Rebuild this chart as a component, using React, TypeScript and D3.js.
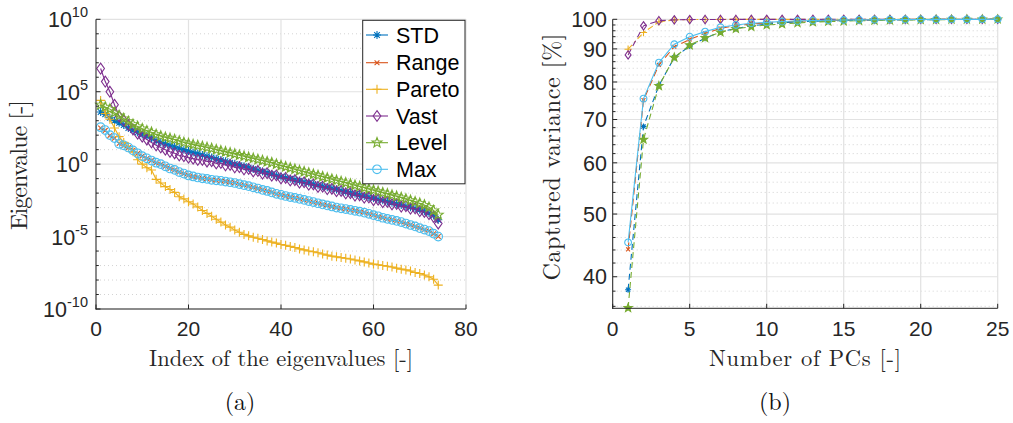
import React from 'react';
import * as d3 from 'd3';

// ---------- DATA ----------
const seriesNames = ['STD', 'Range', 'Pareto', 'Vast', 'Level', 'Max'];
const seriesColors = ['#0072BD', '#D95319', '#EDB120', '#7E2F8E', '#77AC30', '#4DBEEE'];
const markerTypes = ['asterisk', 'x', 'plus', 'diamond', 'pentagram', 'circle'];

// (a) eigenvalues, given as log10 of the eigenvalue, index 1..74
const stdExp = [3.6, 3.45, 3.2, 3.0, 2.85, 2.7, 2.5, 2.35, 2.2, 2.05,
  1.95, 1.8, 1.62, 1.5, 1.4, 1.3, 1.2, 1.1, 1.0, 0.9,
  0.8, 0.74, 0.63, 0.55, 0.46, 0.37, 0.28, 0.2, 0.1, 0.02,
  -0.07, -0.15, -0.25, -0.33, -0.42, -0.5, -0.6, -0.68, -0.78, -0.86,
  -0.93, -1.0, -1.08, -1.15, -1.23, -1.28, -1.38, -1.45, -1.53, -1.6,
  -1.67, -1.75, -1.82, -1.9, -1.97, -2.05, -2.12, -2.2, -2.27, -2.34,
  -2.42, -2.5, -2.58, -2.66, -2.74, -2.82, -2.9, -2.98, -3.06, -3.15,
  -3.25, -3.38, -3.55, -3.84];
const rangeExp = [2.5, 2.33, 1.98, 1.79, 1.42, 1.28, 1.14, 0.96, 0.74, 0.56,
  0.39, 0.26, 0.1, -0.01, -0.14, -0.29, -0.41, -0.54, -0.66, -0.77,
  -0.86, -0.91, -0.99, -1.01, -1.09, -1.11, -1.16, -1.19, -1.26, -1.29,
  -1.39, -1.44, -1.53, -1.59, -1.69, -1.77, -1.86, -1.94, -2.06, -2.11,
  -2.21, -2.26, -2.34, -2.39, -2.48, -2.54, -2.63, -2.69, -2.79, -2.84,
  -2.93, -2.99, -3.06, -3.09, -3.17, -3.21, -3.29, -3.34, -3.44, -3.51,
  -3.61, -3.69, -3.79, -3.84, -3.93, -3.99, -4.11, -4.19, -4.31, -4.41,
  -4.53, -4.61, -4.81, -5.0];
const paretoExp = [4.4, 3.5, 3.1, 2.5, 1.9, 1.5, 1.2, 0.85, 0.3, 0.0,
  -0.25, -0.4, -1.05, -1.3, -1.55, -1.75, -1.95, -2.25, -2.4, -2.6,
  -2.75, -2.95, -3.2, -3.4, -3.6, -3.8, -4.0, -4.2, -4.35, -4.55,
  -4.7, -4.85, -4.95, -5.05, -5.12, -5.2, -5.3, -5.38, -5.45, -5.55,
  -5.6, -5.68, -5.75, -5.85, -5.92, -6.0, -6.05, -6.12, -6.2, -6.28,
  -6.35, -6.4, -6.45, -6.5, -6.55, -6.62, -6.68, -6.75, -6.82, -6.9,
  -6.95, -7.0, -7.05, -7.1, -7.18, -7.25, -7.3, -7.38, -7.48, -7.55,
  -7.65, -7.78, -7.95, -8.35];
const vastExp = [6.6, 5.7, 5.0, 4.1, 3.3, 3.0, 2.7, 2.4, 2.1, 1.9,
  1.7, 1.5, 1.3, 1.15, 1.0, 0.85, 0.75, 0.6, 0.55, 0.45,
  0.38, 0.3, 0.3, 0.18, 0.2, 0.05, 0.08, -0.08, -0.05, -0.22,
  -0.2, -0.36, -0.33, -0.5, -0.47, -0.65, -0.62, -0.8, -0.78, -0.98,
  -0.95, -1.13, -1.1, -1.28, -1.25, -1.42, -1.4, -1.57, -1.55, -1.72,
  -1.7, -1.87, -1.85, -2.02, -2.0, -2.17, -2.15, -2.32, -2.3, -2.48,
  -2.45, -2.63, -2.6, -2.78, -2.75, -2.93, -2.9, -3.08, -3.05, -3.25,
  -3.3, -3.45, -3.65, -4.1];
const levelExp = [4.1, 3.95, 3.8, 3.55, 3.35, 3.15, 2.95, 2.75, 2.6, 2.45,
  2.3, 2.2, 2.05, 1.95, 1.85, 1.78, 1.7, 1.6, 1.5, 1.42,
  1.35, 1.28, 1.22, 1.15, 1.08, 1.0, 0.92, 0.85, 0.78, 0.7,
  0.62, 0.55, 0.47, 0.4, 0.32, 0.25, 0.17, 0.1, 0.0, -0.1,
  -0.18, -0.27, -0.35, -0.44, -0.52, -0.61, -0.7, -0.78, -0.87, -0.95,
  -1.04, -1.12, -1.2, -1.29, -1.37, -1.46, -1.54, -1.63, -1.71, -1.8,
  -1.88, -1.97, -2.05, -2.14, -2.22, -2.31, -2.4, -2.5, -2.6, -2.7,
  -2.82, -2.98, -3.2, -3.5];
const maxExp = [2.55, 2.35, 2.0, 1.8, 1.4, 1.3, 1.15, 0.95, 0.75, 0.55,
  0.4, 0.25, 0.1, 0.0, -0.15, -0.3, -0.4, -0.55, -0.65, -0.78,
  -0.85, -0.92, -0.98, -1.02, -1.08, -1.12, -1.15, -1.2, -1.25, -1.3,
  -1.38, -1.45, -1.52, -1.6, -1.68, -1.78, -1.85, -1.95, -2.05, -2.12,
  -2.2, -2.27, -2.33, -2.4, -2.47, -2.55, -2.62, -2.7, -2.78, -2.85,
  -2.92, -3.0, -3.05, -3.1, -3.16, -3.22, -3.28, -3.35, -3.43, -3.52,
  -3.6, -3.7, -3.78, -3.85, -3.92, -4.0, -4.1, -4.2, -4.3, -4.42,
  -4.52, -4.62, -4.8, -5.0];

// (b) captured variance [%] for 1..25 PCs
const stdCum = [38.2, 68.3, 79.0, 87.3, 90.9, 93.5, 95.6, 96.8, 97.7, 98.3, 98.8, 99.1, 99.3, 99.45, 99.55, 99.65, 99.72, 99.78, 99.83, 99.87, 99.9, 99.93, 99.95, 99.97, 100];
const rangeCum = [44.1, 75.0, 85.0, 90.7, 93.1, 95.1, 96.8, 97.8, 98.3, 98.8, 99.1, 99.3, 99.5, 99.6, 99.7, 99.78, 99.83, 99.88, 99.91, 99.94, 99.96, 99.97, 99.98, 99.99, 100];
const paretoCum = [89.9, 95.4, 99.1, 99.8, 99.9, 99.94, 99.96, 99.97, 99.98, 99.98, 99.99, 99.99, 99.99, 99.99, 100, 100, 100, 100, 100, 100, 100, 100, 100, 100, 100];
const vastCum = [88.1, 97.7, 99.5, 99.8, 99.9, 99.93, 99.95, 99.96, 99.97, 99.98, 99.98, 99.99, 99.99, 99.99, 100, 100, 100, 100, 100, 100, 100, 100, 100, 100, 100];
const levelCum = [35.8, 65.2, 78.9, 87.3, 91.2, 93.6, 95.5, 96.7, 97.4, 98.0, 98.3, 98.7, 99.0, 99.2, 99.35, 99.5, 99.6, 99.7, 99.75, 99.8, 99.85, 99.9, 99.93, 99.96, 100];
const maxCum = [45.2, 75.4, 85.7, 91.5, 94.0, 95.7, 97.2, 98.0, 98.6, 98.9, 99.2, 99.4, 99.55, 99.65, 99.75, 99.8, 99.85, 99.9, 99.92, 99.94, 99.96, 99.97, 99.98, 99.99, 100];

const leftXTicks = [0, 20, 40, 60, 80];
const leftYTickExps = [10, 5, 0, -5, -10];
const rightXTicks = [0, 5, 10, 15, 20, 25];
const rightYTicks = [40, 50, 60, 70, 80, 90, 100];
const rightYMinor = [36, 38, 42, 44, 46, 48, 52, 54, 56, 58, 62, 64, 66, 68, 72, 74, 76, 78, 82, 84, 86, 88, 92, 94, 96, 98];

const eigExps = [stdExp, rangeExp, paretoExp, vastExp, levelExp, maxExp];
const cumVals = [stdCum, rangeCum, paretoCum, vastCum, levelCum, maxCum];
const rightDash = ['6,4', '7,4', '6,3,2,3', '6,4', '6,4', null];

// ---------- helpers ----------
function markerPath(type: string, s: number): string {
  switch (type) {
    case 'asterisk': {
      const a = s * 0.7071;
      return `M${-s},0H${s}M0,${-s}V${s}M${-a},${-a}L${a},${a}M${-a},${a}L${a},${-a}`;
    }
    case 'x': {
      const a = s * 0.75;
      return `M${-a},${-a}L${a},${a}M${-a},${a}L${a},${-a}`;
    }
    case 'plus':
      return `M${-s},0H${s}M0,${-s}V${s}`;
    case 'diamond':
      return `M0,${-s * 1.2}L${s * 0.85},0L0,${s * 1.2}L${-s * 0.85},0Z`;
    case 'pentagram': {
      const pts: string[] = [];
      for (let k = 0; k < 10; k++) {
        const ang = (-90 + k * 36) * Math.PI / 180;
        const r = k % 2 === 0 ? s : s * 0.42;
        pts.push(`${(r * Math.cos(ang)).toFixed(2)},${(r * Math.sin(ang)).toFixed(2)}`);
      }
      return 'M' + pts.join('L') + 'Z';
    }
    default:
      return `M${s},0A${s},${s} 0 1,1 ${-s},0A${s},${s} 0 1,1 ${s},0Z`;
  }
}
const leftMarkerSize: Record<string, number> = { asterisk: 4, x: 3.2, plus: 4.5, diamond: 4.5, pentagram: 5.2, circle: 4.3 };
const rightMarkerSize: Record<string, number> = { asterisk: 3, x: 2.6, plus: 3.6, diamond: 3.5, pentagram: 4.3, circle: 3.4 };

const AX = '#262626';
const GRID = '#e2e2e2';
const MINOR = '#c8c8c8';
const SANS = '"Liberation Sans", Arial, Helvetica, sans-serif';
const SERIF = '"Latin Modern Roman", "Liberation Serif", "Times New Roman", serif';

export default function App() {
  // left panel scales
  const xL = d3.scaleLinear().domain([0, 80]).range([96, 466]);
  const yL = d3.scaleLog().domain([1e-10, 1e10]).range([309, 19.3]);
  // right panel scales
  const xR = d3.scaleLinear().domain([0, 25]).range([612.7, 997.7]);
  const yR = d3.scaleLog().domain([35.75, 100]).range([308.3, 19.3]);

  const leftData = eigExps.map((arr) => arr.map((e, i) => ({ x: i + 1, y: Math.pow(10, e) })));
  const rightData = cumVals.map((arr) => arr.map((v, i) => ({ x: i + 1, y: v })));

  const lineL = d3.line<{ x: number; y: number }>().x((d) => xL(d.x)).y((d) => yL(d.y));
  const lineR = d3.line<{ x: number; y: number }>().x((d) => xR(d.x)).y((d) => yR(d.y));

  const decades = d3.range(-10, 11);
  const legendY = [35, 62.7, 89.3, 116, 142.7, 169.3];

  return (
    <svg width={1013} height={423} style={{ position: 'absolute', left: 0, top: 0, background: '#fff' }}>
      <rect x={0} y={0} width={1013} height={423} fill="#fff" />

      {/* ===== LEFT PANEL ===== */}
      <g>
        {decades.filter((d) => d % 5 !== 0).map((d) => (
          <line key={'lm' + d} x1={xL(0)} x2={xL(80)} y1={yL(Math.pow(10, d))} y2={yL(Math.pow(10, d))}
            stroke={MINOR} strokeWidth={0.8} strokeDasharray="1,3" />
        ))}
        {leftYTickExps.map((e) => (
          <line key={'lg' + e} x1={xL(0)} x2={xL(80)} y1={yL(Math.pow(10, e))} y2={yL(Math.pow(10, e))}
            stroke={GRID} strokeWidth={1.2} />
        ))}
        {leftXTicks.map((t) => (
          <line key={'lvg' + t} x1={xL(t)} x2={xL(t)} y1={19.3} y2={309} stroke={GRID} strokeWidth={1.2} />
        ))}

        {leftData.map((pts, si) => (
          <g key={'ls' + si}>
            <path d={lineL(pts) || ''} fill="none" stroke={seriesColors[si]} strokeWidth={1.1} />
            {pts.map((p, i) => (
              <path key={i} d={markerPath(markerTypes[si], leftMarkerSize[markerTypes[si]])}
                transform={`translate(${xL(p.x)},${yL(p.y)})`} fill="none"
                stroke={seriesColors[si]} strokeWidth={1.1} />
            ))}
          </g>
        ))}

        <line x1={96} x2={96} y1={19.3} y2={309.5} stroke={AX} strokeWidth={1} />
        <line x1={95.5} x2={466} y1={309} y2={309} stroke={AX} strokeWidth={1} />
        {decades.map((d) => (
          <line key={'lt' + d} x1={96} x2={96 + (d % 5 === 0 ? 4.5 : 2.8)} y1={yL(Math.pow(10, d))} y2={yL(Math.pow(10, d))}
            stroke={AX} strokeWidth={1} />
        ))}
        {leftXTicks.map((t) => (
          <line key={'lxt' + t} x1={xL(t)} x2={xL(t)} y1={309} y2={304.5} stroke={AX} strokeWidth={1} />
        ))}

        {leftXTicks.map((t) => (
          <text key={'lxl' + t} x={xL(t)} y={336} textAnchor="middle" fontFamily={SANS} fontSize={21} fill={AX}>{t}</text>
        ))}
        {leftYTickExps.map((e) => (
          <text key={'lyl' + e} x={88} y={yL(Math.pow(10, e)) + 8} textAnchor="end" fontFamily={SANS} fontSize={21.5} fill={AX}>
            10<tspan fontSize={14.5} dy={-10}>{e}</tspan>
          </text>
        ))}

        <text x={281} y={366} textAnchor="middle" fontFamily={SERIF} fontSize={22.5} fill={AX} textLength={264}>
          Index of the eigenvalues [-]
        </text>
        <text transform="translate(27,165) rotate(-90)" textAnchor="middle" fontFamily={SERIF} fontSize={24} fill={AX} textLength={130}>
          Eigenvalue [-]
        </text>
        <text x={240} y={410} textAnchor="middle" fontFamily={SERIF} fontSize={24} fill="#111">(a)</text>

        {/* legend */}
        <rect x={362.7} y={20.3} width={102.3} height={163.5} fill="#fff" stroke={AX} strokeWidth={1} />
        {seriesNames.map((nm, si) => (
          <g key={'lg' + nm}>
            <line x1={366} x2={388} y1={legendY[si]} y2={legendY[si]} stroke={seriesColors[si]} strokeWidth={1.1} />
            <path d={markerPath(markerTypes[si], leftMarkerSize[markerTypes[si]])} transform={`translate(377,${legendY[si]})`}
              fill="none" stroke={seriesColors[si]} strokeWidth={1.1} />
            <text x={396} y={legendY[si] + 7.6} fontFamily={SANS} fontSize={21.5} fill="#000">{nm}</text>
          </g>
        ))}
      </g>

      {/* ===== RIGHT PANEL ===== */}
      <g>
        {rightYMinor.map((v) => (
          <line key={'rm' + v} x1={xR(0)} x2={xR(25)} y1={yR(v)} y2={yR(v)} stroke={MINOR} strokeWidth={0.8} strokeDasharray="1,3" />
        ))}
        {rightYTicks.map((v) => (
          <line key={'rg' + v} x1={xR(0)} x2={xR(25)} y1={yR(v)} y2={yR(v)} stroke={GRID} strokeWidth={1.2} />
        ))}
        {rightXTicks.map((t) => (
          <line key={'rvg' + t} x1={xR(t)} x2={xR(t)} y1={19.3} y2={308.3} stroke={GRID} strokeWidth={1.2} />
        ))}

        {rightData.map((pts, si) => (
          <g key={'rs' + si}>
            <path d={lineR(pts) || ''} fill="none" stroke={seriesColors[si]} strokeWidth={1.1}
              strokeDasharray={rightDash[si] || undefined} />
            {pts.map((p, i) => (
              <path key={i} d={markerPath(markerTypes[si], rightMarkerSize[markerTypes[si]])}
                transform={`translate(${xR(p.x)},${yR(p.y)})`}
                fill={markerTypes[si] === 'pentagram' ? seriesColors[si] : 'none'}
                stroke={seriesColors[si]} strokeWidth={1.1} />
            ))}
          </g>
        ))}

        <line x1={612.7} x2={612.7} y1={19.3} y2={308.8} stroke={AX} strokeWidth={1} />
        <line x1={612.2} x2={997.7} y1={308.3} y2={308.3} stroke={AX} strokeWidth={1} />
        {rightYMinor.map((v) => (
          <line key={'rmt' + v} x1={612.7} x2={615.5} y1={yR(v)} y2={yR(v)} stroke={AX} strokeWidth={1} />
        ))}
        {rightYTicks.map((v) => (
          <line key={'rt' + v} x1={612.7} x2={617.2} y1={yR(v)} y2={yR(v)} stroke={AX} strokeWidth={1} />
        ))}
        {rightXTicks.map((t) => (
          <line key={'rxt' + t} x1={xR(t)} x2={xR(t)} y1={308.3} y2={303.8} stroke={AX} strokeWidth={1} />
        ))}

        {rightXTicks.map((t) => (
          <text key={'rxl' + t} x={xR(t)} y={336} textAnchor="middle" fontFamily={SANS} fontSize={21} fill={AX}>{t}</text>
        ))}
        {rightYTicks.map((v) => (
          <text key={'ryl' + v} x={607} y={yR(v) + 7.7} textAnchor="end" fontFamily={SANS} fontSize={21.5} fill={AX}>{v}</text>
        ))}

        <text x={805} y={366} textAnchor="middle" fontFamily={SERIF} fontSize={22.5} fill={AX} textLength={192}>
          Number of PCs [-]
        </text>
        <text transform="translate(560,157) rotate(-90)" textAnchor="middle" fontFamily={SERIF} fontSize={24} fill={AX} textLength={247}>
          Captured variance [%]
        </text>
        <text x={775} y={410} textAnchor="middle" fontFamily={SERIF} fontSize={24} fill="#111">(b)</text>
      </g>
    </svg>
  );
}
